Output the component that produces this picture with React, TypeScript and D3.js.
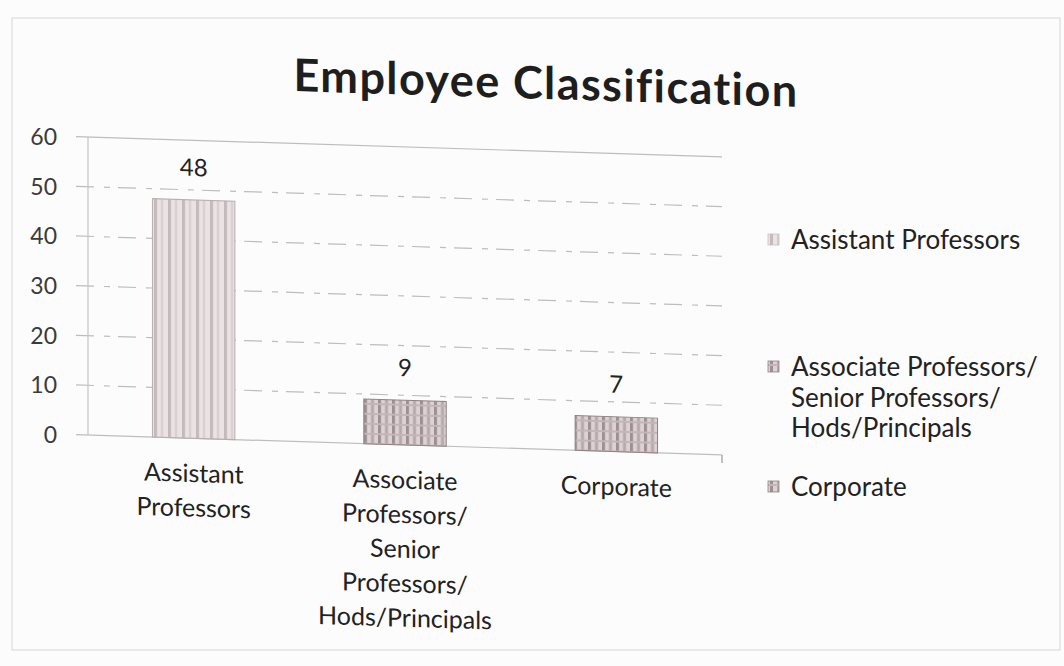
import React from "react";
import * as d3 from "d3";

// chart data
const categories = ["Assistant Professors", "Associate Professors/ Senior Professors/ Hods/Principals", "Corporate"];
const axisLabels = [["Assistant", "Professors"], ["Associate", "Professors/", "Senior", "Professors/", "Hods/Principals"], ["Corporate"]];
const legendLabels = [["Assistant Professors"], ["Associate Professors/", "Senior Professors/", "Hods/Principals"], ["Corporate"]];
const values = [48, 9, 7];
const yTicks = [0, 10, 20, 30, 40, 50, 60];

const W = 1064;
const H = 666;
const tilt = 1.8; // the scanned page slopes a little to the right

const fills = ["url(#stripeLight)", "url(#stripeDark)", "url(#stripeDark)"];

const App = () => {
  const x = d3.scaleBand<string>().domain(categories).range([88, 722]).padding(0);
  const y = d3.scaleLinear().domain([0, 60]).range([435, 137]);
  const barW = x.bandwidth() * 0.39;
  const font = "Lato, 'Open Sans', sans-serif";
  const skew = (cx: number, cy: number) => `translate(${cx},${cy}) skewY(${tilt}) translate(${-cx},${-cy})`;

  return (
    <svg width={W} height={H} style={{ position: "absolute", left: 0, top: 0, background: "#fcfcfc" }}>
      <defs>
        <pattern id="stripeLight" width="14" height="10" patternUnits="userSpaceOnUse">
          <rect width="14" height="10" fill="#ebe2e3" />
          <rect x="0" width="3" height="10" fill="#c4b9bb" />
          <rect x="7" width="2" height="10" fill="#d6cccd" />
        </pattern>
        <pattern id="stripeDark" width="14" height="10" patternUnits="userSpaceOnUse">
          <rect width="14" height="10" fill="#ddd1d3" />
          <rect x="0" width="3" height="10" fill="#9c9092" />
          <rect x="7" width="3" height="10" fill="#b5a9ab" />
          <rect y="4" width="14" height="2" fill="#c2b6b8" />
        </pattern>
      </defs>

      {/* faint frame of the scanned chart */}
      <rect x={12} y={18} width={1048} height={632} fill="none" stroke="#e2e2e2" strokeWidth={1.5} />

      <text x={546} y={99} textAnchor="middle" fontFamily={font} fontSize={45} fontWeight="bold"
        letterSpacing={1.4} fill="#1e1e1e" transform={skew(546, 85)}>
        Employee Classification
      </text>

      {yTicks.map((t) => (
        <text key={t} x={57} y={y(t)} dy="0.35em" textAnchor="end" fontFamily={font} fontSize={23} fill="#3a3a3a">
          {t}
        </text>
      ))}

      <g transform={skew(88, 435)}>
        {/* gridlines */}
        {yTicks.map((t) => (
          <line key={t} x1={76} x2={722} y1={y(t)} y2={y(t)}
            stroke="#bdbdbd" strokeWidth={1.2} strokeDasharray={t === 0 || t === 60 ? "none" : "18 10 6 8"} />
        ))}
        <line x1={88} x2={88} y1={y(60)} y2={y(0)} stroke="#c4c4c4" strokeWidth={1.2} />
        <line x1={722} x2={722} y1={y(0)} y2={y(0) + 8} stroke="#999" strokeWidth={1.2} />

        {categories.map((c, i) => {
          const cx = (x(c) as number) + x.bandwidth() / 2;
          return (
            <g key={c}>
              <rect x={cx - barW / 2} y={y(values[i])} width={barW} height={y(0) - y(values[i])}
                fill={fills[i]} stroke={i === 0 ? "#b8adaf" : "#8e8284"} strokeWidth={1} />
              <text x={cx} y={y(values[i]) - 24} textAnchor="middle" fontFamily={font} fontSize={24} fill="#222">
                {values[i]}
              </text>
              {axisLabels[i].map((l, j) => (
                <text key={j} x={cx} y={470 + j * 34.5} dy="0.35em" textAnchor="middle" fontFamily={font} fontSize={25} fill="#222">
                  {l}
                </text>
              ))}
            </g>
          );
        })}
      </g>

      {/* legend */}
      {legendLabels.map((lines, i) => {
        const ly = [240, 367, 487][i];
        return (
          <g key={i}>
            <rect x={768} y={ly - 6} width={11} height={11} fill={fills[i]} stroke={i === 0 ? "#c9c0c1" : "#8e8284"} strokeWidth={0.8} />
            {lines.map((l, j) => (
              <text key={j} x={791} y={ly + j * 30.5} dy="0.35em" fontFamily={font} fontSize={26} fill="#222">
                {l}
              </text>
            ))}
          </g>
        );
      })}
    </svg>
  );
};

export default App;
